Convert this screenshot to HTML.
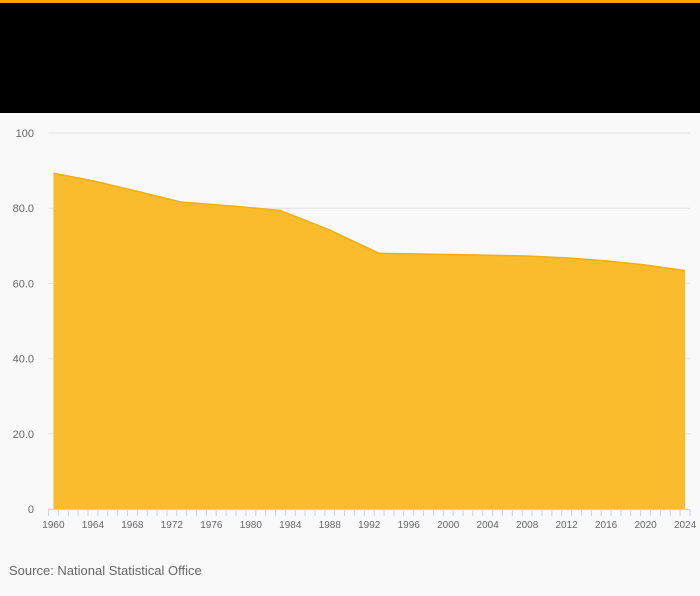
<!DOCTYPE html>
<html><head><meta charset="utf-8"><style>
body{margin:0;width:700px;height:596px;background:#f9f9f9;font-family:"Liberation Sans",sans-serif;overflow:hidden;position:relative}
#topbar{position:absolute;left:0;top:0;width:700px;height:3px;background:#f5a800}
#header{position:absolute;left:0;top:3px;width:700px;height:110px;background:#000}
#source{position:absolute;left:9px;top:563px;font-size:13px;color:#666}
svg{position:absolute;left:0;top:0}
</style></head><body>
<div id="topbar"></div>
<div id="header"></div>
<svg id="chart" width="700" height="596"></svg>
<div id="source">Source: National Statistical Office</div>
<script>
const years=[1960,1964,1968,1973,1978,1983,1988,1993,2000,2008,2012,2016,2020,2024];
const values=[89.3,87.3,84.8,81.6,80.6,79.4,74.2,68.0,67.7,67.3,66.8,66.0,64.9,63.4];
const yTicks=[0,20,40,60,80,100];
const yTickLabels=["0","20.0","40.0","60.0","80.0","100"];
const xLabelYears=[1960,1964,1968,1972,1976,1980,1984,1988,1992,1996,2000,2004,2008,2012,2016,2020,2024];
const NS="http://www.w3.org/2000/svg",svg=document.getElementById('chart');
const x0=48.5,x1=690,y0=509,y1=133,step=(x1-x0)/65;
const X=yr=>x0+(yr-1960+0.5)*step, Y=v=>y0-(v/100)*(y0-y1);
function mk(t,a){const e=document.createElementNS(NS,t);for(const k in a)e.setAttribute(k,a[k]);svg.appendChild(e);return e;}
yTicks.forEach((v,i)=>{
  if(v>0){const g=mk('line',{x1:x0,x2:x1,y1:Y(v),y2:Y(v),stroke:'#e3e3e3','stroke-width':1});
  
  }
  const t=mk('text',{x:34,y:Y(v)+4,'text-anchor':'end','font-size':11,fill:'#666','font-family':'Liberation Sans, sans-serif'});
  t.textContent=yTickLabels[i];
  
  
});
let d='M'+X(years[0])+','+y0;
years.forEach((yr,i)=>{d+=' L'+X(yr)+','+Y(values[i]);});
d+=' L'+X(years[years.length-1])+','+y0+' Z';
const area=mk('path',{d:d,fill:'#f9bc2d'});


let ld='';years.forEach((yr,i)=>{ld+=(i?' L':'M')+X(yr)+','+Y(values[i]);});
const ln=mk('path',{d:ld,fill:'none',stroke:'#f5ad10','stroke-width':1.5});


const ax=mk('line',{x1:x0,x2:x1,y1:y0+0.5,y2:y0+0.5,stroke:'#c8d3e6','stroke-width':1});


for(let k=0;k<=65;k++){const tk=mk('line',{x1:x0+k*step,x2:x0+k*step,y1:y0,y2:y0+7,stroke:'#c8d3e6','stroke-width':1});

}
xLabelYears.forEach(yr=>{const t=mk('text',{x:X(yr),y:528,'text-anchor':'middle','font-size':10,fill:'#666','font-family':'Liberation Sans, sans-serif'});
t.textContent=yr;

});
</script>
</body></html>
